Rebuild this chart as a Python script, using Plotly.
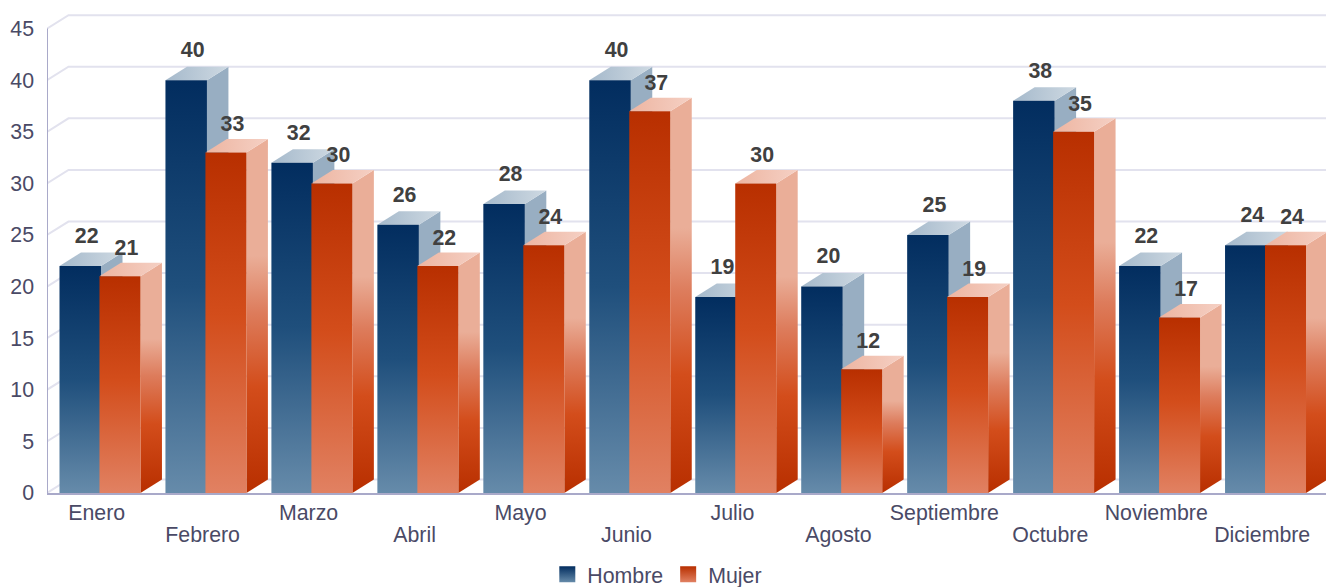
import plotly.graph_objects as go

months = ["Enero", "Febrero", "Marzo", "Abril", "Mayo", "Junio", "Julio",
          "Agosto", "Septiembre", "Octubre", "Noviembre", "Diciembre"]
hombre = [22, 40, 32, 26, 28, 40, 19, 20, 25, 38, 22, 24]
mujer = [21, 33, 30, 22, 24, 37, 30, 12, 19, 35, 17, 24]
y_ticks = [0, 5, 10, 15, 20, 25, 30, 35, 40, 45]

PX_X = 106.0
PX_Y = 10.33
DX = 21.5 / PX_X
DY = 13.5 / PX_Y
AXIS_L, RIGHT = 46.5, 1326
BASE = 493.5
ORIGIN = 99.0
GRID = "#e2e2ee"
AXIS = "#a9a9c9"
TXT = "#4a4a66"
LBL = "#404040"
FONT = "Liberation Sans, Arial, sans-serif"
FS = 21.33

H_FRONT = [[0, "#022d5f"], [0.5, "#1f4f7c"], [1, "#668baa"]]
H_SIDE = [[0, "#98aec2"], [0.6, "#98aec2"], [1, "#4c7297"]]
H_TOP = [[0, "#a5b9cb"], [1, "#ced9e2"]]
M_FRONT = [[0, "#b82f00"], [0.48, "#d34d1b"], [1, "#e18162"]]
M_SIDE = [[0, "#eaae98"], [0.33, "#eaae98"], [0.49, "#dd7c5c"], [0.70, "#d34d1b"], [1, "#b82f00"]]
M_TOP = [[0, "#edb5a1"], [1, "#f5d0c4"]]

x_min = (AXIS_L - ORIGIN) / PX_X
x_max = (RIGHT - ORIGIN) / PX_X

fig = go.Figure()


def line(xs, ys):
    fig.add_trace(go.Scatter(x=xs, y=ys, mode="lines", line=dict(color=GRID, width=2),
                             hoverinfo="skip", showlegend=False))


for t in y_ticks:
    line([x_min, x_min + DX, x_max + 1], [t, t + DY, t + DY])

# value axis line stops at the top tick
fig.add_trace(go.Scatter(x=[x_min, x_min], y=[y_ticks[0], y_ticks[-1]], mode="lines",
                         line=dict(color=AXIS, width=2), hoverinfo="skip",
                         showlegend=False, cliponaxis=False))


def face(xs, ys, scale, kind, start, stop, name):
    fig.add_trace(go.Scatter(
        x=xs, y=ys, mode="lines", line=dict(width=0), fill="toself", name=name,
        fillgradient=dict(type=kind, colorscale=scale, start=start, stop=stop),
        hoverinfo="skip", showlegend=False))


def bar3d(x0, x1, v, front, side, top, name):
    face([x1, x1 + DX, x1 + DX, x1, x1], [0, DY, v + DY, v, 0], side, "vertical", v + DY, 0, name)
    face([x0, x0 + DX, x1 + DX, x1, x0], [v, v + DY, v + DY, v, v], top, "horizontal", x0, x1 + DX, name)
    face([x0, x1, x1, x0, x0], [0, 0, v, v, 0], front, "vertical", v, 0, name)


H0, H1 = -40.0 / PX_X, 1.5 / PX_X
M0, M1 = 0.0, 41.0 / PX_X
for i in range(len(months)):
    bar3d(i + H0, i + H1, hombre[i], H_FRONT, H_SIDE, H_TOP, "Hombre")
    bar3d(i + M0, i + M1, mujer[i], M_FRONT, M_SIDE, M_TOP, "Mujer")

lx = 6.5 / PX_X
for vals, c0, c1, lift in ((hombre, H0, H1, 28.5), (mujer, M0, M1, 26.5)):
    fig.add_trace(go.Scatter(
        x=[i + (c0 + c1) / 2 + lx for i in range(12)], y=[v + lift / PX_Y for v in vals],
        text=[str(v) for v in vals], mode="text", textposition="middle center",
        textfont=dict(family=FONT, size=FS, color=LBL, weight="bold"),
        hoverinfo="skip", showlegend=False, cliponaxis=False))

fig.add_trace(go.Scatter(x=[None], y=[None], mode="markers", name="Hombre",
                         marker=dict(symbol="square", size=16, color="#022d5f",
                                     gradient=dict(type="vertical", color="#668baa"))))
fig.add_trace(go.Scatter(x=[None], y=[None], mode="markers", name="Mujer",
                         marker=dict(symbol="square", size=16, color="#b82f00",
                                     gradient=dict(type="vertical", color="#e18162"))))
# second x axis carries the lower row of month labels
fig.add_trace(go.Scatter(x=[None], y=[None], xaxis="x2", hoverinfo="skip", showlegend=False))

TICK_SHIFT = -2.8 / PX_X
row1 = [i for i in range(12) if i % 2 == 0]
row2 = [i for i in range(12) if i % 2 == 1]

plot_w = RIGHT - AXIS_L
plot_h = BASE
fig.update_layout(
    width=1326, height=587, autosize=False,
    margin=dict(l=AXIS_L, r=0, t=0, b=587 - BASE, pad=0, autoexpand=False),
    paper_bgcolor="white", plot_bgcolor="white",
    font=dict(family=FONT, size=FS, color=TXT),
    legend=dict(orientation="h", x=(547 - AXIS_L) / plot_w, xanchor="left",
                y=-(554.5 - BASE) / plot_h, yanchor="top",
                font=dict(family=FONT, size=FS, color=TXT), itemwidth=30,
                bgcolor="rgba(0,0,0,0)"),
    xaxis=dict(range=[x_min, x_max], tickvals=[i + TICK_SHIFT for i in row1],
               ticktext=[months[i] for i in row1],
               showgrid=False, zeroline=False, showline=True, linecolor=AXIS, linewidth=2,
               ticks="", layer="below traces", fixedrange=True, ticklabelstandoff=-1,
               tickangle=0, tickfont=dict(family=FONT, size=FS, color=TXT)),
    xaxis2=dict(range=[x_min, x_max], overlaying="x", anchor="y", side="bottom",
                tickvals=[i + TICK_SHIFT for i in row2],
                ticktext=[months[i] for i in row2],
                showgrid=False, zeroline=False, showline=False,
                ticks="", layer="below traces", fixedrange=True, ticklabelstandoff=27,
                tickangle=0, tickfont=dict(family=FONT, size=FS, color=TXT)),
    yaxis=dict(range=[0, plot_h / PX_Y], tickvals=y_ticks, showgrid=False, zeroline=False,
               showline=False, ticks="", layer="below traces",
               fixedrange=True, ticklabelstandoff=12,
               tickfont=dict(family=FONT, size=FS, color=TXT)),
)
fig.write_html("out.html", config={"displayModeBar": False},
               post_script="document.body.style.margin='0';document.documentElement.style.overflow='hidden';")
